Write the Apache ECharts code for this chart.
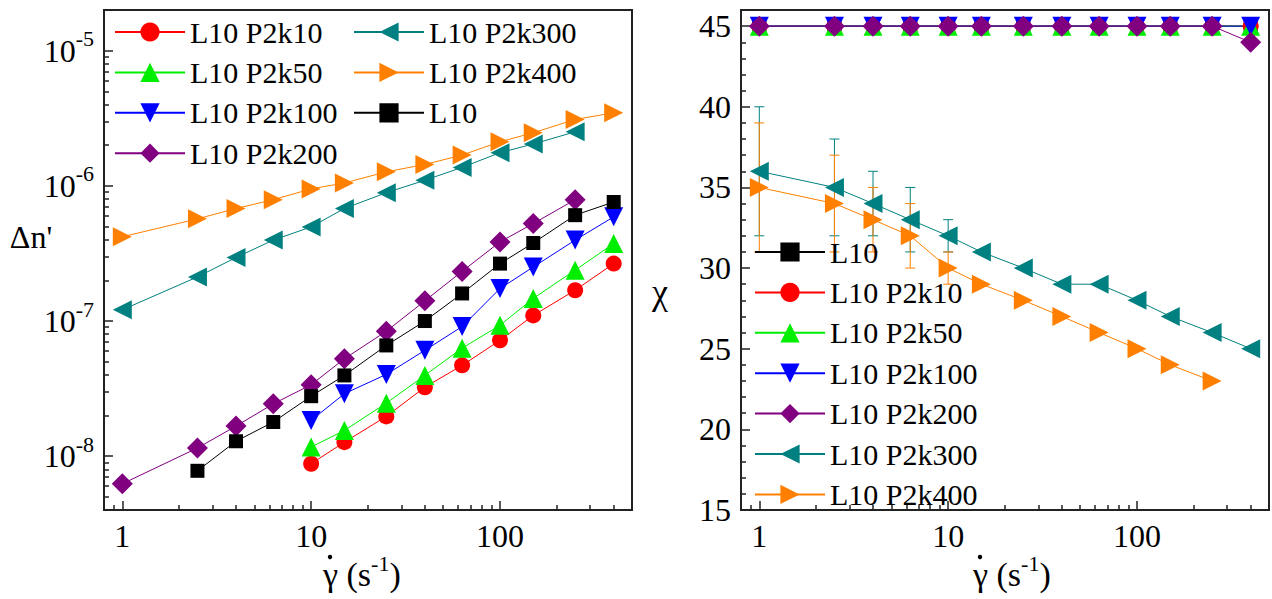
<!DOCTYPE html>
<html>
<head>
<meta charset="utf-8">
<script src="https://cdn.jsdelivr.net/npm/echarts@6/dist/echarts.min.js"></script>
<style>
html,body{margin:0;padding:0;background:#fff;font-family:'Liberation Serif';}
#chart{width:1272px;height:599px;font-family:'Liberation Serif';}
</style>
</head>
<body>
<div id="chart"></div>
<script>
// ---------- data ----------
const shearRates = [1, 2.5, 4, 6.3, 10, 15, 25, 40, 63, 100, 150, 250, 400];

// Left panel: birefringence Δn'
const dnL10     = [null, 7.8e-9, 1.29e-8, 1.79e-8, 2.78e-8, 3.96e-8, 6.6e-8, 1.0e-7, 1.6e-7, 2.66e-7, 3.78e-7, 6.07e-7, 7.6e-7];
const dnP2k10   = [null, null, null, null, 8.8e-9, 1.27e-8, 1.97e-8, 3.24e-8, 4.7e-8, 7.2e-8, 1.1e-7, 1.69e-7, 2.66e-7];
const dnP2k50   = [null, null, null, null, 1.17e-8, 1.55e-8, 2.47e-8, 3.96e-8, 6.3e-8, 9.3e-8, 1.47e-7, 2.38e-7, 3.74e-7];
const dnP2k100  = [null, null, null, null, 1.84e-8, 2.9e-8, 4.03e-8, 6.07e-8, 9.1e-8, 1.74e-7, 2.51e-7, 3.97e-7, 5.9e-7];
const dnP2k200  = [6.25e-9, 1.15e-8, 1.67e-8, 2.44e-8, 3.38e-8, 5.26e-8, 8.4e-8, 1.41e-7, 2.33e-7, 3.85e-7, 5.26e-7, 7.9e-7, null];
const dnP2k300  = [1.21e-7, 2.12e-7, 2.95e-7, 3.97e-7, 4.97e-7, 6.8e-7, 8.9e-7, 1.1e-6, 1.37e-6, 1.76e-6, 2.04e-6, 2.51e-6, null];
const dnP2k400  = [4.2e-7, 5.7e-7, 6.8e-7, 7.9e-7, 9.5e-7, 1.05e-6, 1.27e-6, 1.44e-6, 1.69e-6, 2.12e-6, 2.47e-6, 3.1e-6, 3.47e-6];

// Right panel: extinction angle χ
const chiL10    = [45, 45, 45, 45, 45, 45, 45, 45, 45, 45, 45, 45, 45];
const chiP2k10  = [45, 45, 45, 45, 45, 45, 45, 45, 45, 45, 45, 45, 45];
const chiP2k50  = [45, 45, 45, 45, 45, 45, 45, 45, 45, 45, 45, 45, 45];
const chiP2k100 = [45, 45, 45, 45, 45, 45, 45, 45, 45, 45, 45, 45, 45];
const chiP2k200 = [45, 45, 45, 45, 45, 45, 45, 45, 45, 45, 45, 45, 44];
const chiP2k300 = [36, 35, 34, 33, 32, 31, 30, 29, 29, 28, 27, 26, 25];
const chiP2k400 = [35, 34, 33, 32, 30, 29, 28, 27, 26, 25, 24, 23, null];
const errP2k300 = [4, 3, 2, 2, 1, null, null, null, null, null, null, null, null];
const errP2k400 = [4, 3, 2, 2, 1, null, null, null, null, null, null, null, null];

const seriesNames = ['L10', 'L10 P2k10', 'L10 P2k50', 'L10 P2k100', 'L10 P2k200', 'L10 P2k300', 'L10 P2k400'];
const legendLeftCol1 = ['L10 P2k10', 'L10 P2k50', 'L10 P2k100', 'L10 P2k200'];
const legendLeftCol2 = ['L10 P2k300', 'L10 P2k400', 'L10'];

// ---------- styling ----------
const serifFamily = 'Liberation Serif';
const axisColor = '#222';
const styleOf = {
  'L10':        {color: '#000000', symbol: 'rect', size: 14},
  'L10 P2k10':  {color: '#FF0000', symbol: 'circle', size: 16},
  'L10 P2k50':  {color: '#00EE00', symbol: 'path://M5,0L10,10L0,10Z', size: 19},
  'L10 P2k100': {color: '#0000FF', symbol: 'path://M0,0L10,0L5,10Z', size: 19},
  'L10 P2k200': {color: '#800080', symbol: 'diamond', size: 21},
  'L10 P2k300': {color: '#008080', symbol: 'path://M0,5L10,0L10,10Z', size: 19},
  'L10 P2k400': {color: '#FF8000', symbol: 'path://M10,5L0,0L0,10Z', size: 19}
};

function pairs(xs, ys) {
  const out = [];
  for (let i = 0; i < xs.length; i++) if (ys[i] != null) out.push([xs[i], ys[i]]);
  return out;
}
function errPairs(xs, ys, es) {
  const out = [];
  for (let i = 0; i < xs.length; i++) if (es[i] != null && ys[i] != null) out.push([xs[i], ys[i], es[i]]);
  return out;
}
function lineSeries(name, values, gi) {
  const s = styleOf[name];
  return {
    name: name, type: 'line', xAxisIndex: gi, yAxisIndex: gi,
    data: pairs(shearRates, values),
    symbol: s.symbol, symbolSize: s.size, showSymbol: true,
    itemStyle: {color: s.color, opacity: 1},
    lineStyle: {color: s.color, width: 1},
    emphasis: {disabled: true},
    z: 3
  };
}
function errorSeries(name, values, errs, color) {
  return {
    name: name, type: 'custom', xAxisIndex: 1, yAxisIndex: 1,
    data: errPairs(shearRates, values, errs),
    z: 2, silent: true,
    renderItem: function (params, api) {
      const x = api.value(0), y = api.value(1), e = api.value(2);
      const top = api.coord([x, y + e]);
      const bot = api.coord([x, y - e]);
      const cap = 5;
      const st = {stroke: color, lineWidth: 1};
      return {
        type: 'group',
        children: [
          {type: 'line', shape: {x1: top[0], y1: top[1], x2: bot[0], y2: bot[1]}, style: st},
          {type: 'line', shape: {x1: top[0] - cap, y1: top[1], x2: top[0] + cap, y2: top[1]}, style: st},
          {type: 'line', shape: {x1: bot[0] - cap, y1: bot[1], x2: bot[0] + cap, y2: bot[1]}, style: st}
        ]
      };
    }
  };
}

function xAxisDef(gi) {
  return {
    type: 'log', logBase: 10, gridIndex: gi, min: 0.8, max: 500,
    axisLine: {show: true, onZero: false, lineStyle: {color: axisColor, width: 2}},
    axisTick: {show: true, inside: true, length: 9, lineStyle: {color: axisColor, width: 1.5}},
    minorTick: {show: true, splitNumber: 9, length: 5, lineStyle: {color: axisColor, width: 1.5}},
    splitLine: {show: false}, minorSplitLine: {show: false},
    axisLabel: {
      color: '#000', fontFamily: serifFamily, fontWeight: 'normal', fontSize: 32, margin: 10,
      showMinLabel: false, showMaxLabel: false,
      formatter: function (v) { return String(v); }
    }
  };
}

const legendCommon = {
  orient: 'vertical', itemWidth: 70, itemHeight: 24, itemGap: 10.4,
  selectedMode: false, padding: 0,
  textStyle: {color: '#000', fontFamily: serifFamily, fontWeight: 'normal', fontSize: 30}
};

function xTitle(leftX) {
  return {
    type: 'group', silent: true,
    children: [
      {type: 'text', x: leftX, y: 574,
       style: {text: '{b|\u03B3 (s}{s|-1}{b|)}', fontFamily: serifFamily, fontSize: 34,
         align: 'left', verticalAlign: 'middle', fill: '#000',
         rich: {b: {fontFamily: serifFamily, fontSize: 34, color: '#000'},
                s: {fontFamily: serifFamily, fontSize: 22, color: '#000', padding: [0, 0, 22, 0]}}}},
      {type: 'circle', shape: {cx: leftX + 7, cy: 557, r: 2.2}, style: {fill: '#000'}}
    ]
  };
}

const option = {
  animation: false,
  backgroundColor: '#fff',
  textStyle: {fontFamily: serifFamily},
  grid: [
    {left: 104, top: 10, width: 528, height: 500, show: true, borderColor: axisColor, borderWidth: 2, backgroundColor: 'transparent'},
    {left: 741, top: 10, width: 528, height: 500, show: true, borderColor: axisColor, borderWidth: 2, backgroundColor: 'transparent'}
  ],
  xAxis: [xAxisDef(0), xAxisDef(1)],
  yAxis: [
    {
      type: 'log', logBase: 10, gridIndex: 0, min: 4e-9, max: 2e-5,
      axisLine: {show: true, onZero: false, lineStyle: {color: axisColor, width: 2}},
      axisTick: {show: true, inside: true, length: 9, lineStyle: {color: axisColor, width: 1.5}},
      minorTick: {show: true, splitNumber: 9, length: 5, lineStyle: {color: axisColor, width: 1.5}},
      splitLine: {show: false}, minorSplitLine: {show: false},
      axisLabel: {
        color: '#000', fontFamily: serifFamily, fontSize: 32, margin: 10,
        showMinLabel: false, showMaxLabel: false,
        formatter: function (v) {
          const e = Math.round(Math.log10(v));
          return '{b|10}{s|' + e + '}';
        },
        rich: {
          b: {fontFamily: serifFamily, fontSize: 32, color: '#000'},
          s: {fontFamily: serifFamily, fontSize: 22, color: '#000', padding: [0, 0, 24, 0]}
        }
      }
    },
    {
      type: 'value', gridIndex: 1, min: 15, max: 46, interval: 5,
      axisLine: {show: true, onZero: false, lineStyle: {color: axisColor, width: 2}},
      axisTick: {show: true, inside: true, length: 9, lineStyle: {color: axisColor, width: 1.5}},
      minorTick: {show: true, splitNumber: 5, length: 5, lineStyle: {color: axisColor, width: 1.5}},
      splitLine: {show: false}, minorSplitLine: {show: false},
      axisLabel: {color: '#000', fontFamily: serifFamily, fontWeight: 'normal', fontSize: 32, margin: 10, showMaxLabel: false}
    }
  ],
  legend: [
    Object.assign({left: 114, top: 17, data: legendLeftCol1}, legendCommon),
    Object.assign({left: 353, top: 17, data: legendLeftCol2}, legendCommon),
    Object.assign({left: 754, top: 237, data: seriesNames}, legendCommon)
  ],
  graphic: [
    {type: 'text', x: 31, y: 237, silent: true,
     style: {text: "\u0394n'", fontFamily: serifFamily, fontSize: 32, fill: '#000', align: 'center', verticalAlign: 'middle'}},
    {type: 'text', x: 660, y: 292, silent: true,
     style: {text: '\u03C7', fontFamily: serifFamily, fontSize: 36, fill: '#000', align: 'center', verticalAlign: 'middle'}},
    xTitle(323),
    xTitle(973)
  ],
  series: [
    lineSeries('L10 P2k10', dnP2k10, 0),
    lineSeries('L10 P2k50', dnP2k50, 0),
    lineSeries('L10 P2k100', dnP2k100, 0),
    lineSeries('L10 P2k200', dnP2k200, 0),
    lineSeries('L10', dnL10, 0),
    lineSeries('L10 P2k300', dnP2k300, 0),
    lineSeries('L10 P2k400', dnP2k400, 0),

    errorSeries('err P2k300', chiP2k300, errP2k300, '#008080'),
    errorSeries('err P2k400', chiP2k400, errP2k400, '#FF8000'),
    lineSeries('L10', chiL10, 1),
    lineSeries('L10 P2k10', chiP2k10, 1),
    lineSeries('L10 P2k50', chiP2k50, 1),
    lineSeries('L10 P2k100', chiP2k100, 1),
    lineSeries('L10 P2k200', chiP2k200, 1),
    lineSeries('L10 P2k300', chiP2k300, 1),
    lineSeries('L10 P2k400', chiP2k400, 1)
  ]
};

const chart = echarts.init(document.getElementById('chart'), null, {renderer: 'svg'});
chart.setOption(option);
</script>
</body>
</html>
